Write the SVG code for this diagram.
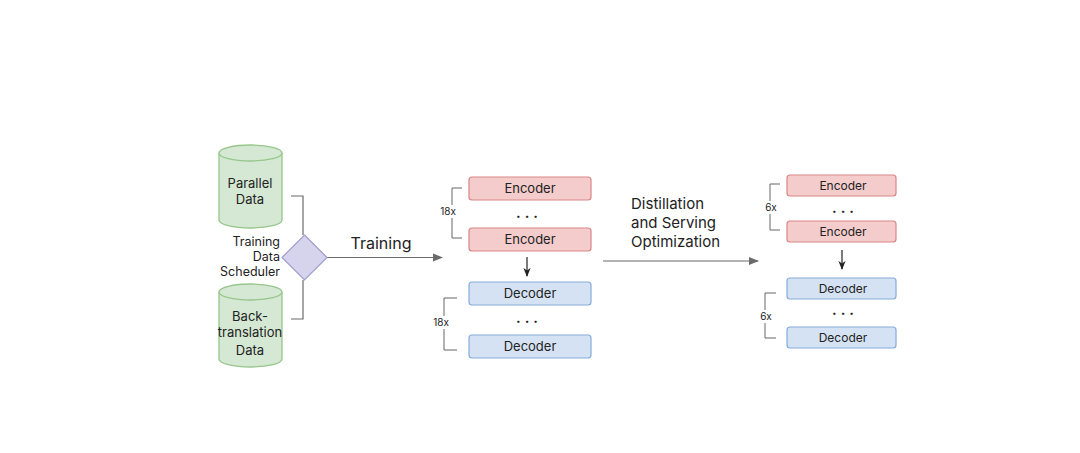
<svg xmlns="http://www.w3.org/2000/svg" width="1080" height="453" viewBox="0 0 1080 453">
<defs>
<style>
text{font-family:Inter,"Liberation Sans",sans-serif;fill:#222}
.cyl{fill:#d5e8d4;stroke:#97c68a;stroke-width:1.3}
.enc{fill:#f4cccc;stroke:#d98585;stroke-width:1.2}
.dec{fill:#d5e2f3;stroke:#86acdc;stroke-width:1.2}
.line{fill:none;stroke:#6b6b6b;stroke-width:1.2}
.br{fill:none;stroke:#666;stroke-width:1}
.bg{fill:#ffffff}
.t13{font-size:13px;text-anchor:middle}
.t12{font-size:12px;text-anchor:middle}
.small{font-size:10px;text-anchor:middle}
.dots{font-size:14px;font-weight:bold;letter-spacing:4px}
</style>
<marker id="ah" viewBox="0 0 10 10" refX="9" refY="5" markerWidth="10" markerHeight="10" markerUnits="userSpaceOnUse" orient="auto">
<path d="M0,1 L10,5 L0,9 z" fill="#6b6b6b"/>
</marker>
<marker id="ahk" viewBox="0 0 10 10" refX="9" refY="5" markerWidth="9" markerHeight="9" markerUnits="userSpaceOnUse" orient="auto">
<path d="M0,1 L10,5 L0,9 L3,5 z" fill="#222"/>
</marker>
</defs>
<rect width="1080" height="453" fill="#ffffff"/>

<g id="connectors">
<path class="line" d="M291,196 H303 V235"/>
<path class="line" d="M303,280 V319 H291"/>
<path class="line" d="M327,257.5 H442" marker-end="url(#ah)"/>
<path class="line" d="M603,261 H758" marker-end="url(#ah)"/>
<path d="M527,257 V276" fill="none" stroke="#222" stroke-width="1.2" marker-end="url(#ahk)"/>
<path d="M842,250 V269" fill="none" stroke="#222" stroke-width="1.2" marker-end="url(#ahk)"/>
<text x="381" y="249" style="font-size:16px;text-anchor:middle">Training</text>
<text x="631" y="209" style="font-size:15px">Distillation</text>
<text x="631" y="228" style="font-size:15px">and Serving</text>
<text x="631" y="247" style="font-size:15px">Optimization</text>
</g>

<g id="parallel-data">
<path class="cyl" d="M219,153 a31.5,8 0 0 1 63,0 v67 a31.5,8 0 0 1 -63,0 z"/>
<path class="cyl" d="M219,153 a31.5,8 0 0 0 63,0" fill="none"/>
<text class="t13" x="250" y="188">Parallel</text>
<text class="t13" x="250" y="204">Data</text>
</g>

<g id="backtranslation-data">
<path class="cyl" d="M219,292 a31.5,8 0 0 1 63,0 v67 a31.5,8 0 0 1 -63,0 z"/>
<path class="cyl" d="M219,292 a31.5,8 0 0 0 63,0" fill="none"/>
<text class="t13" x="250" y="321">Back-</text>
<text class="t13" x="250" y="337">translation</text>
<text class="t13" x="250" y="355">Data</text>
</g>

<g id="scheduler">
<path d="M304.5,235 L327,257.5 L304.5,280 L282,257.5 z" fill="#d6d3ec" stroke="#a39dd0" stroke-width="1.2"/>
<text x="280" y="246" style="font-size:12.5px;text-anchor:end">Training</text>
<text x="280" y="261" style="font-size:12.5px;text-anchor:end">Data</text>
<text x="280" y="276" style="font-size:12.5px;text-anchor:end">Scheduler</text>
</g>

<g id="teacher-encoders">
<rect class="enc" x="469" y="177" width="122" height="23" rx="3"/>
<text class="t13" x="530" y="193">Encoder</text>
<text class="dots" x="516" y="218">...</text>
<rect class="enc" x="469" y="228" width="122" height="23" rx="3"/>
<text class="t13" x="530" y="244">Encoder</text>
<path class="br" d="M462,188 H452 V238 H462"/>
<rect class="bg" x="439" y="205" width="19" height="13"/>
<text class="small" x="448" y="215">18x</text>
</g>

<g id="teacher-decoders">
<rect class="dec" x="469" y="282" width="122" height="23" rx="3"/>
<text class="t13" x="530" y="298">Decoder</text>
<text class="dots" x="516" y="323">...</text>
<rect class="dec" x="469" y="335" width="122" height="23" rx="3"/>
<text class="t13" x="530" y="351">Decoder</text>
<path class="br" d="M457,298 H444 V350 H457"/>
<rect class="bg" x="432" y="316" width="19" height="13"/>
<text class="small" x="441" y="326">18x</text>
</g>

<g id="student-encoders">
<rect class="enc" x="787" y="175" width="109" height="21" rx="3"/>
<text class="t12" x="843" y="190">Encoder</text>
<text class="dots" x="832" y="213">...</text>
<rect class="enc" x="787" y="221" width="109" height="21" rx="3"/>
<text class="t12" x="843" y="236">Encoder</text>
<path class="br" d="M780,184 H770 V230 H780"/>
<rect class="bg" x="764" y="201" width="14" height="13"/>
<text class="small" x="771" y="211">6x</text>
</g>

<g id="student-decoders">
<rect class="dec" x="787" y="278" width="109" height="21" rx="3"/>
<text class="t12" x="843" y="293">Decoder</text>
<text class="dots" x="832" y="315">...</text>
<rect class="dec" x="787" y="327" width="109" height="21" rx="3"/>
<text class="t12" x="843" y="342">Decoder</text>
<path class="br" d="M776,293 H765 V338 H776"/>
<rect class="bg" x="759" y="310" width="14" height="13"/>
<text class="small" x="766" y="320">6x</text>
</g>
</svg>
